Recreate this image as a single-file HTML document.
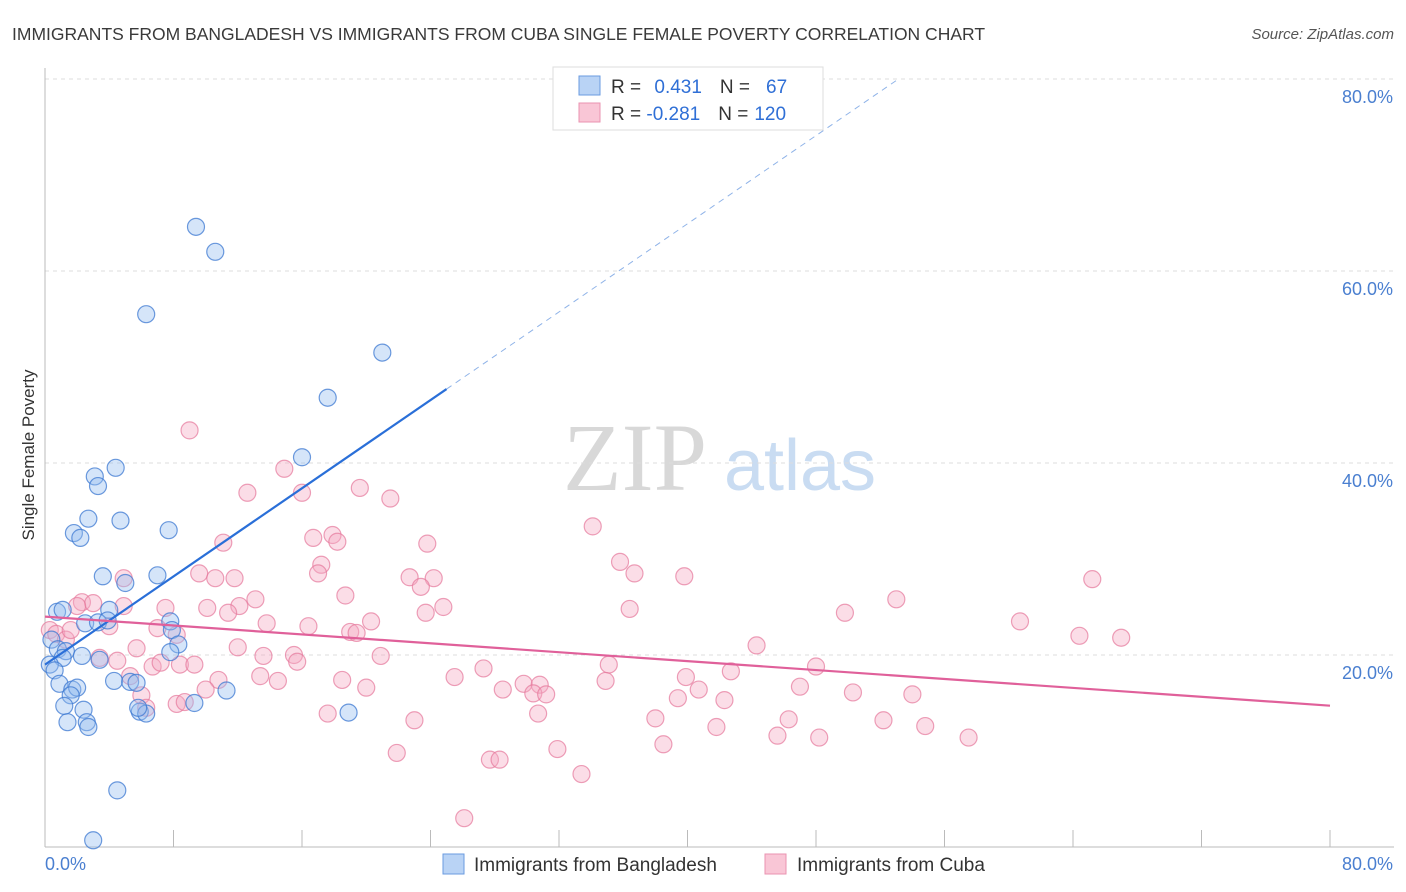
<!DOCTYPE html>
<html><head><meta charset="utf-8"><style>
body{margin:0;background:#fff;font-family:"Liberation Sans",sans-serif;}
svg{display:block}
</style></head><body>
<svg id="chart" width="1406" height="892">
<text x="12" y="40" font-size="17.5" fill="#3a3a3a">IMMIGRANTS FROM BANGLADESH VS IMMIGRANTS FROM CUBA SINGLE FEMALE POVERTY CORRELATION CHART</text>
<text x="1394" y="39" font-size="15" fill="#555" font-style="italic" text-anchor="end">Source: ZipAtlas.com</text>
<text x="34" y="455" font-size="17" fill="#333" text-anchor="middle" transform="rotate(-90 34 455)">Single Female Poverty</text>
<g>
<text x="635" y="490" font-size="96" fill="#d8d8d8" text-anchor="middle" font-family="Liberation Serif,serif">ZIP</text>
<text x="800" y="490" font-size="72" fill="#c9dcf2" text-anchor="middle">atlas</text>
</g>
<g id="grid"></g><g id="axes"></g><g id="pts"></g><g id="lines"></g>
<g>
<rect x="553" y="67" width="270" height="63" fill="#fff" stroke="#ddd"/>
<rect x="579" y="76" width="21" height="19" fill="#b9d3f5" stroke="#6a9be0"/>
<rect x="579" y="103" width="21" height="19" fill="#f9c6d6" stroke="#ea93b0"/>
<text x="611" y="93" font-size="19" fill="#333">R = <tspan fill="#2f6fd6" dx="8">0.431</tspan><tspan dx="18" fill="#333">N =</tspan><tspan dx="16" fill="#2f6fd6">67</tspan></text>
<text x="611" y="120" font-size="19" fill="#333">R = <tspan fill="#2f6fd6">-0.281</tspan><tspan dx="18" fill="#333">N =</tspan><tspan dx="6" fill="#2f6fd6">120</tspan></text>
</g>
<g>
<rect x="443" y="854" width="21" height="20" fill="#b9d3f5" stroke="#6a9be0"/>
<text x="474" y="871" font-size="19" fill="#333">Immigrants from Bangladesh</text>
<rect x="765" y="854" width="21" height="20" fill="#f9c6d6" stroke="#ea93b0"/>
<text x="797" y="871" font-size="19" fill="#333">Immigrants from Cuba</text>
</g>
</svg>
<script>
const blueX=[9.4,10.6,6.3,21.0,17.6,16.0,3.1,4.4,3.3,1.8,2.2,2.7,4.7,7.7,3.6,7.0,5.0,0.75,1.1,4.0,2.5,3.3,3.9,7.8,7.9,8.3,7.8,0.4,0.8,1.3,1.1,2.3,3.4,0.3,0.6,0.9,1.7,2.0,1.6,1.2,2.4,1.4,2.6,2.7,4.3,5.3,5.7,9.3,11.3,5.9,6.3,5.8,18.9,4.5,3.0];
const blueY=[64.6,62.0,55.5,51.5,46.8,40.6,38.6,39.5,37.6,32.7,32.2,34.2,34.0,33.0,28.2,28.3,27.5,24.5,24.7,24.7,23.3,23.4,23.6,23.5,22.6,21.1,20.3,21.6,20.6,20.4,19.7,19.9,19.5,19.0,18.4,17.0,16.4,16.6,15.8,14.7,14.3,13.0,13.0,12.5,17.3,17.2,17.1,15.0,16.3,14.1,13.9,14.5,14.0,5.9,0.7];
const pinkX=[9.0,12.6,14.9,16.0,19.6,21.5,34.1,11.1,16.7,17.9,18.2,23.8,17.2,17.0,35.8,36.7,39.8,65.2,4.9,9.6,10.6,11.8,22.7,24.2,23.4,13.1,12.1,10.1,7.5,4.9,2.3,3.0,18.7,24.8,23.7,36.4,53.0,49.8,11.4,20.3,13.8,16.4,2.0,60.7,64.4,67.0,19.0,19.4,7.0,8.2,4.0,0.3,0.7,1.3,1.6,12.0,5.7,13.6,15.5,15.7,20.9,44.3,8.4,9.3,6.7,7.2,4.5,3.4,35.1,27.3,48.0,42.7,5.3,13.4,14.5,10.8,18.5,25.5,29.8,30.8,34.9,39.9,10.0,20.0,28.5,30.4,31.2,40.7,47.0,50.3,54.0,6.0,8.2,8.7,42.3,39.4,6.3,17.6,23.0,30.7,38.0,46.3,52.2,41.8,54.8,45.6,48.2,57.5,38.5,31.9,21.9,27.7,28.3,33.4,26.1];
const pinkY=[43.4,36.9,39.4,36.9,37.4,36.3,33.4,31.7,32.2,32.5,31.8,31.6,29.4,28.5,29.7,28.5,28.2,27.9,28.0,28.5,28.0,28.0,28.1,28.0,27.1,25.8,25.1,24.9,24.9,25.1,25.5,25.4,26.2,25.0,24.4,24.8,25.8,24.4,24.4,23.5,23.3,23.0,25.1,23.5,22.0,21.8,22.4,22.3,22.8,22.1,23.0,22.6,22.2,21.6,22.6,20.8,20.7,19.9,20.0,19.3,19.9,21.0,19.0,19.0,18.8,19.2,19.4,19.7,19.0,18.6,18.8,18.3,17.8,17.8,17.3,17.4,17.4,17.7,17.0,16.9,17.3,17.7,16.4,16.6,16.4,16.0,15.9,16.4,16.7,16.1,15.9,15.8,14.9,15.1,15.3,15.5,14.5,13.9,13.2,13.9,13.4,13.3,13.2,12.5,12.6,11.6,11.4,11.4,10.7,10.2,9.8,9.1,9.1,7.6,3.0];
const yTicks=[20,40,60,80];
const yTickLabels=["20.0%","40.0%","60.0%","80.0%"];
const xTickVals=[0,8,16,24,32,40,48,56,64,72,80];
const blueLine=[19.0,1.148]; // intercept, slope
const pinkLine=[24.0,-0.116];
const NS="http://www.w3.org/2000/svg";
const X=v=>45+v*1285/80, Y=v=>847-v*768/80;
function mk(p,t,a){const e=document.createElementNS(NS,t);for(const k in a)e.setAttribute(k,a[k]);p.appendChild(e);return e;}
const grid=document.getElementById('grid'),axes=document.getElementById('axes'),pts=document.getElementById('pts'),lines=document.getElementById('lines');
yTicks.forEach((t,i)=>{
 const g=mk(grid,'line',{x1:45,x2:1394,y1:Y(t),y2:Y(t),stroke:'#ddd','stroke-dasharray':'4,4'});
 
 
 const l=mk(axes,'text',{x:1393,y:Y(t)+24,'font-size':18,fill:'#4a7fd0','text-anchor':'end'});
 l.textContent=yTickLabels[i];
 
 
});
const ax=mk(axes,'line',{x1:45,x2:1394,y1:847,y2:847,stroke:'#bbb'});


const ay=mk(axes,'line',{x1:45,x2:45,y1:68,y2:847,stroke:'#bbb'});


xTickVals.forEach(t=>{const e=mk(axes,'line',{x1:X(t),x2:X(t),y1:830,y2:847,stroke:'#bbb'});
 
 });
const x0=mk(axes,'text',{x:45,y:870,'font-size':18,fill:'#4a7fd0'});x0.textContent='0.0%';


const x1=mk(axes,'text',{x:1393,y:870,'font-size':18,fill:'#4a7fd0','text-anchor':'end'});x1.textContent='80.0%';


pinkX.forEach((v,i)=>{const c=mk(pts,'circle',{cx:X(v),cy:Y(pinkY[i]),r:8.5,fill:'rgba(245,170,195,0.4)',stroke:'rgba(230,120,155,0.7)','stroke-width':1.2});
 
 });
blueX.forEach((v,i)=>{const c=mk(pts,'circle',{cx:X(v),cy:Y(blueY[i]),r:8.5,fill:'rgba(150,190,240,0.4)',stroke:'rgba(60,120,210,0.75)','stroke-width':1.2});
 
 });
const bl=mk(lines,'line',{x1:X(0),y1:Y(blueLine[0]),x2:X(25),y2:Y(blueLine[0]+blueLine[1]*25),stroke:'#2a6fd8','stroke-width':2.2});


const bd=mk(lines,'line',{x1:X(25),y1:Y(blueLine[0]+blueLine[1]*25),x2:X(53),y2:Y(blueLine[0]+blueLine[1]*53),stroke:'#8fb3e8','stroke-width':1,'stroke-dasharray':'6,5'});


const pl=mk(lines,'line',{x1:X(0),y1:Y(pinkLine[0]),x2:X(80),y2:Y(pinkLine[0]+pinkLine[1]*80),stroke:'#e0609a','stroke-width':2.2});


</script>
</body></html>
